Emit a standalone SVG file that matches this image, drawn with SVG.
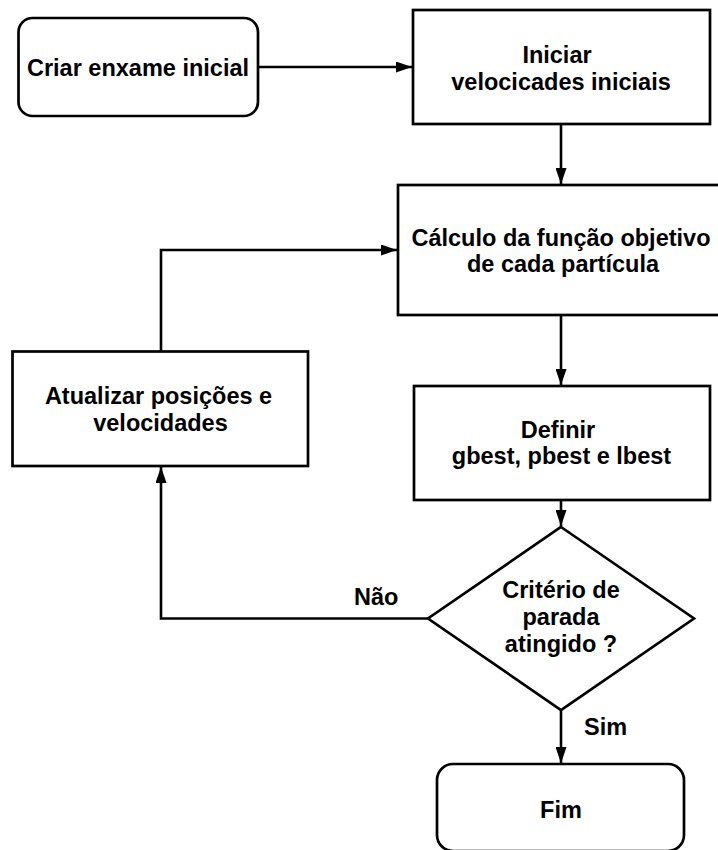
<svg xmlns="http://www.w3.org/2000/svg" width="718" height="850" viewBox="0 0 718 850">
<defs>
<style>
.box{fill:#fff;stroke:#000;stroke-width:2.7}
.con{fill:none;stroke:#000;stroke-width:2.6}
.t{font-family:"Liberation Sans",Arial,sans-serif;font-weight:bold;font-size:23.5px;fill:#000;text-anchor:middle}
.lbl{font-family:"Liberation Sans",Arial,sans-serif;font-weight:bold;font-size:23.5px;fill:#000}
</style>
<marker id="arr" markerWidth="16" markerHeight="11" refX="16" refY="5.5" orient="auto" markerUnits="userSpaceOnUse">
<path d="M0,0 L16,5.5 L0,11 z" fill="#000"/>
</marker>
</defs>
<rect width="718" height="850" fill="#fff"/>
<g id="connectors">
<line class="con" x1="258" y1="67" x2="412" y2="67" marker-end="url(#arr)"/>
<line class="con" x1="561" y1="124" x2="561" y2="184" marker-end="url(#arr)"/>
<line class="con" x1="561" y1="315" x2="561" y2="385" marker-end="url(#arr)"/>
<line class="con" x1="561" y1="500" x2="561" y2="526" marker-end="url(#arr)"/>
<line class="con" x1="561" y1="710" x2="561" y2="763" marker-end="url(#arr)"/>
<polyline class="con" points="161,351.5 161,250 397,250" marker-end="url(#arr)"/>
<polyline class="con" points="428,618.5 161,618.5 161,467" marker-end="url(#arr)"/>
<text class="lbl" x="354" y="605">Não</text>
<text class="lbl" x="584" y="735">Sim</text>
</g>
<g id="n1">
<rect class="box" x="18.5" y="18" width="239.5" height="98" rx="14" ry="14"/>
<text class="t" x="138" y="76">Criar enxame inicial</text>
</g>
<g id="n2">
<rect class="box" x="413" y="10" width="297" height="114"/>
<text class="t" x="557" y="63">Iniciar</text>
<text class="t" x="561" y="89.5">velocicades iniciais</text>
</g>
<g id="n3">
<rect class="box" x="398" y="185" width="330" height="130"/>
<text class="t" x="561" y="246">Cálculo da função objetivo</text>
<text class="t" x="563" y="272">de cada partícula</text>
</g>
<g id="n4">
<rect class="box" x="12.5" y="351.5" width="295.5" height="114.5"/>
<text class="t" x="158.5" y="404">Atualizar posições e</text>
<text class="t" x="160.5" y="430.5">velocidades</text>
</g>
<g id="n5">
<rect class="box" x="414" y="386" width="296" height="114"/>
<text class="t" x="558" y="438">Definir</text>
<text class="t" x="561.5" y="463.5">gbest, pbest e lbest</text>
</g>
<g id="n6">
<polygon class="box" points="561,527 694,618.5 561,710 428,618.5"/>
<text class="t" x="561" y="598">Critério de</text>
<text class="t" x="561" y="625">parada</text>
<text class="t" x="561" y="652">atingido ?</text>
</g>
<g id="n7">
<rect class="box" x="437" y="764" width="247" height="87" rx="16" ry="16"/>
<text class="t" x="561" y="818">Fim</text>
</g>
</svg>
